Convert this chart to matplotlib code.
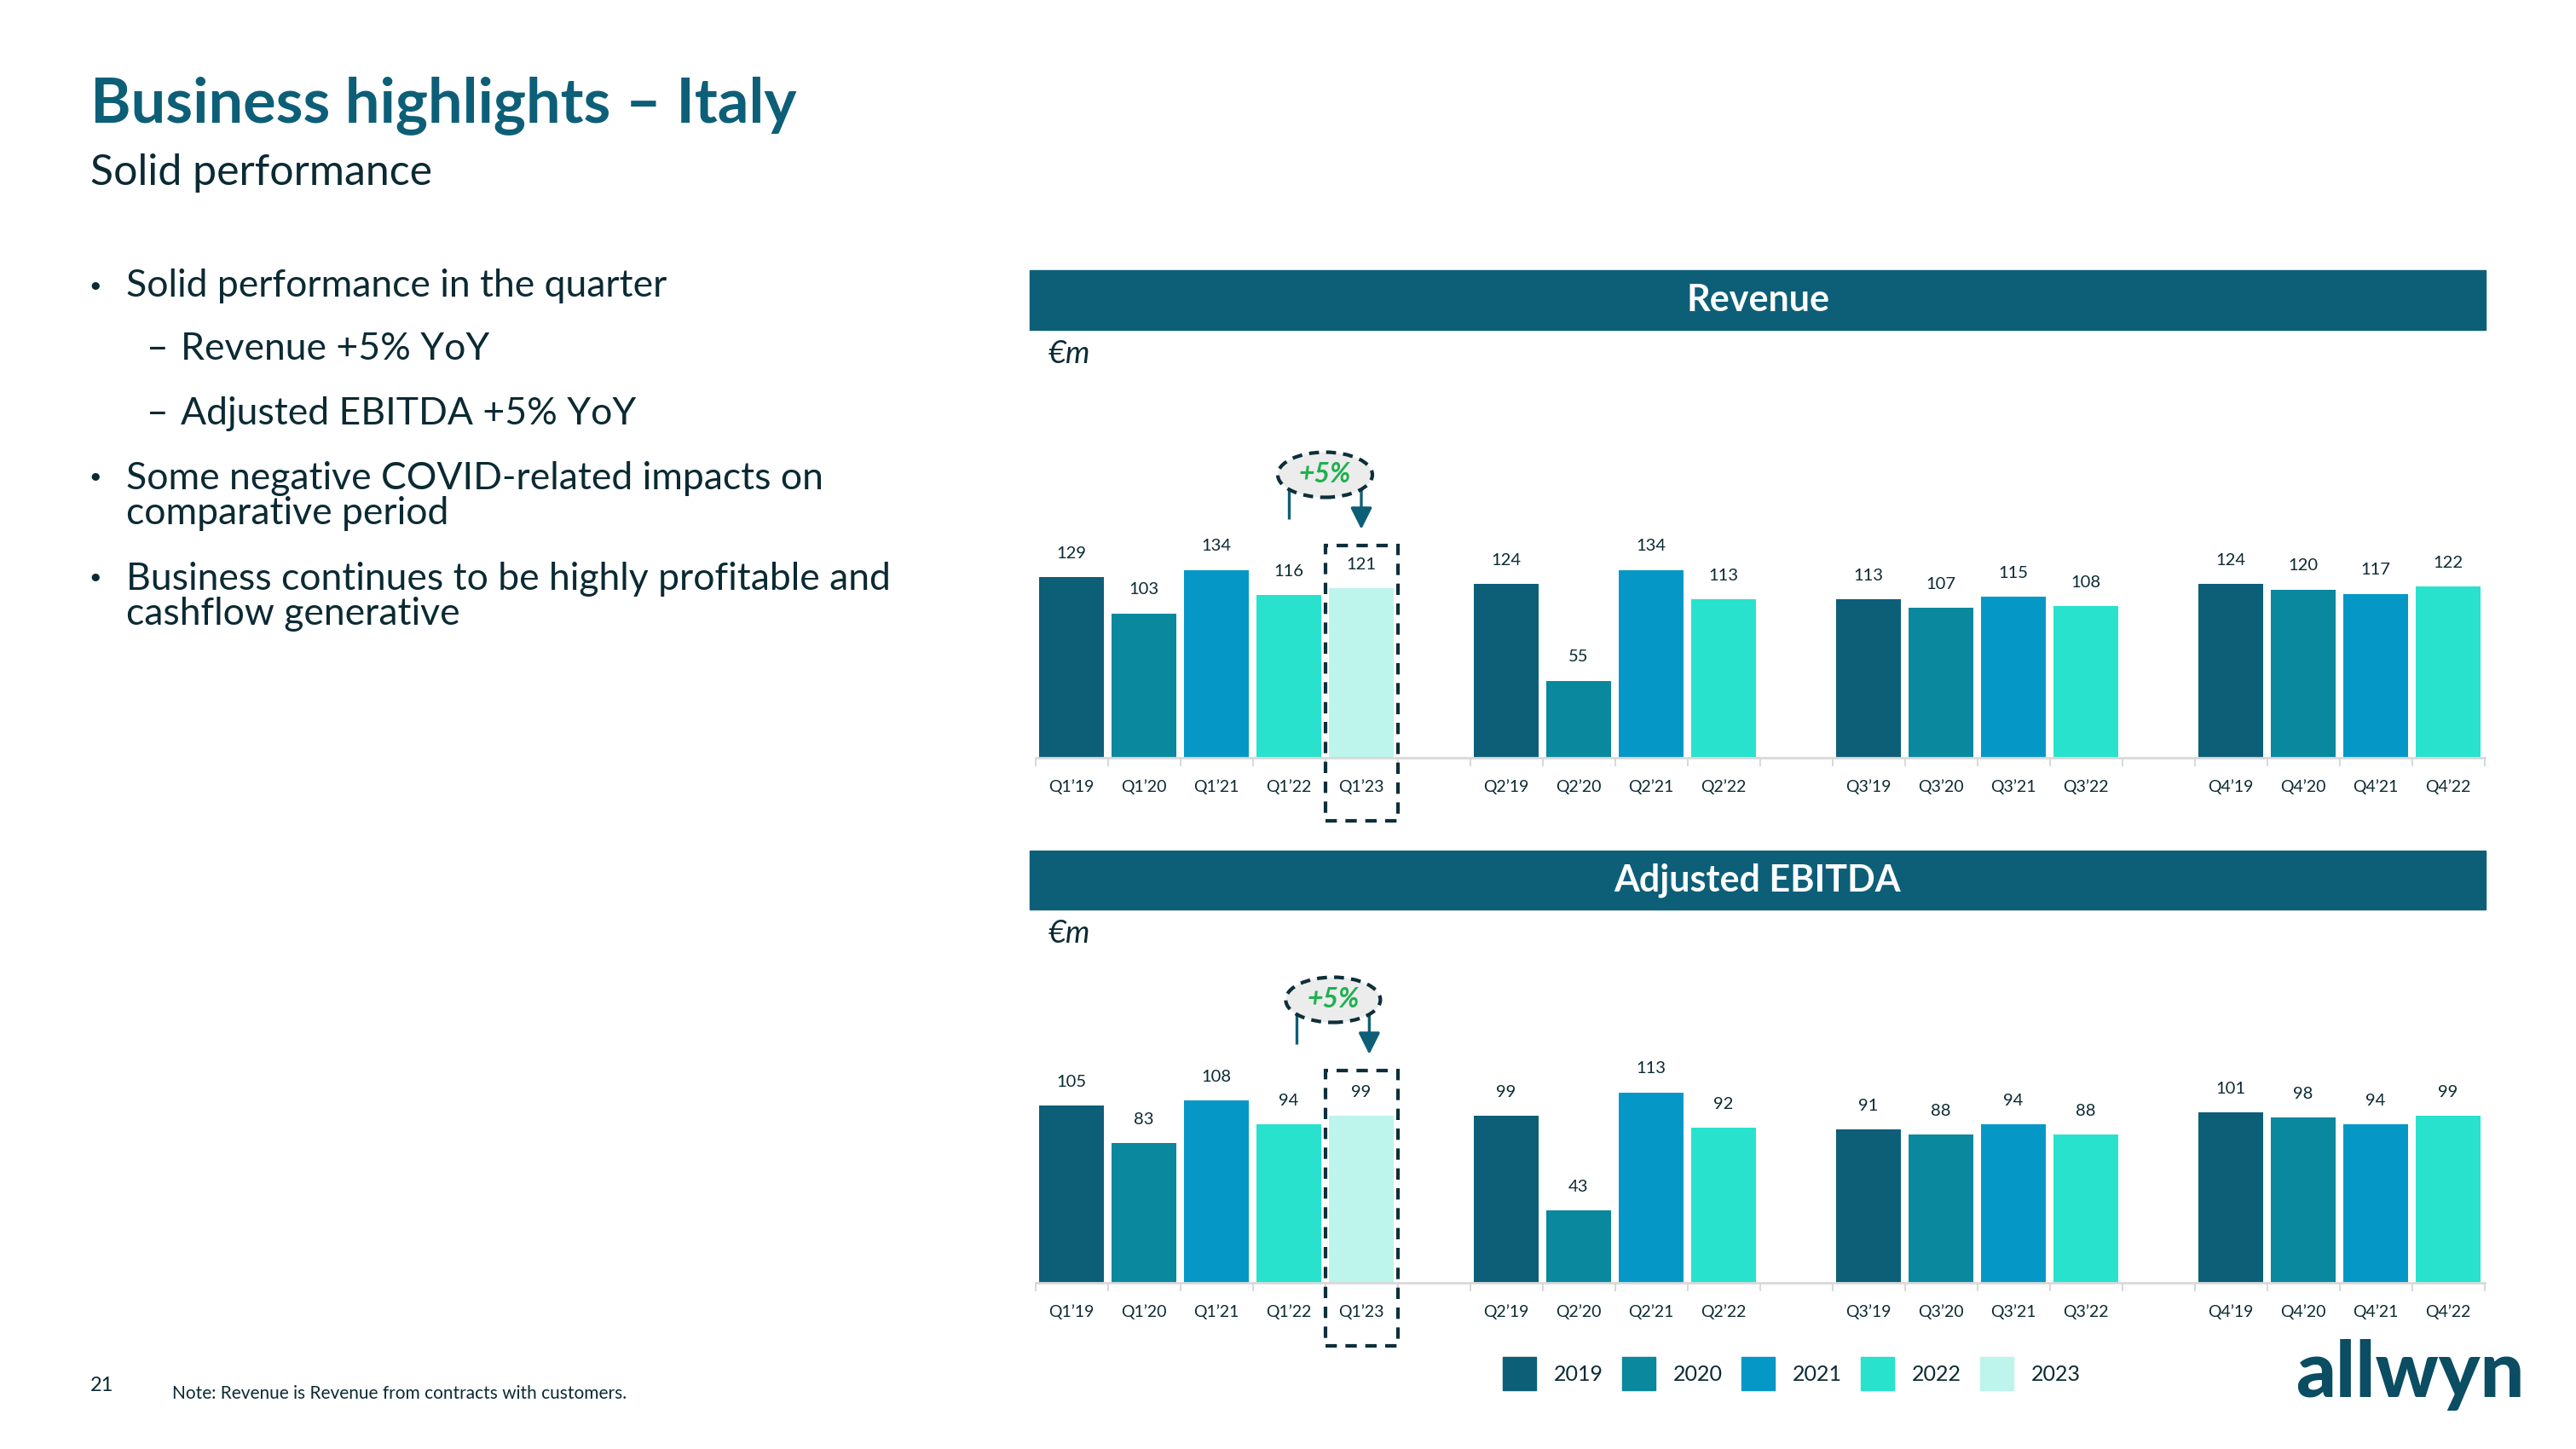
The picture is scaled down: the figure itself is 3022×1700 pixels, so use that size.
import numpy as np
import matplotlib
matplotlib.use('Agg')
import matplotlib.pyplot as plt
from matplotlib.patches import Rectangle, Ellipse

# data
years = ['2019', '2020', '2021', '2022', '2023']
year_colors = ['#0d5f78', '#0a889e', '#0598c6', '#29e2cd', '#bdf4ec']

revenue_q1 = [129, 103, 134, 116, 121]
revenue_q2 = [124, 55, 134, 113]
revenue_q3 = [113, 107, 115, 108]
revenue_q4 = [124, 120, 117, 122]

ebitda_q1 = [105, 83, 108, 94, 99]
ebitda_q2 = [99, 43, 113, 92]
ebitda_q3 = [91, 88, 94, 88]
ebitda_q4 = [101, 98, 94, 99]

revenue_growth = '+5%'
ebitda_growth = '+5%'

bullets = [
    ('•', 'Solid performance in the quarter', 0),
    ('–', 'Revenue +5% YoY', 1),
    ('–', 'Adjusted EBITDA +5% YoY', 1),
    ('•', 'Some negative COVID-related impacts on\ncomparative period', 0),
    ('•', 'Business continues to be highly profitable and\ncashflow generative', 0),
]

# style
TEAL = '#0d5f78'
DARK = '#0b2a33'
BOX = '#0d2f3a'
GRID = '#d9d9d9'
GREEN = '#1fb050'
plt.rcParams['font.family'] = ['Lato', 'DejaVu Sans']

W, H = 3022, 1700


def fx(x):
    return x / W


def fy(y):
    return 1 - y / H


fig = plt.figure(figsize=(W / 100, H / 100), dpi=100)


def add_axes_px(left, top, right, bottom):
    return fig.add_axes([fx(left), fy(bottom), (right - left) / W, (bottom - top) / H])


def draw_panel(ax, groups, ylim, axh, growth, shift):
    xs, vals, cols, labs = [], [], [], []
    pos = 0
    for q, values in enumerate(groups):
        for i, v in enumerate(values):
            xs.append(pos)
            vals.append(v)
            cols.append(year_colors[i])
            labs.append("Q%d’%s" % (q + 1, years[i][2:]))
            pos += 1
        pos += 1
    n_slots = pos - 1
    ax.bar(xs, vals, width=0.9, color=cols, zorder=2)
    ax.set_xlim(-0.5, n_slots - 0.5)
    ax.set_ylim(0, ylim)
    for x, v in zip(xs, vals):
        ax.annotate(str(v), (x, v), xytext=(0, 20), textcoords='offset points',
                    ha='center', va='center', fontsize=14.5, color=DARK)
    ax.set_xticks(xs)
    ax.set_xticklabels(labs)
    ax.set_xticks(np.arange(-0.5, n_slots), minor=True)
    ax.tick_params(axis='x', which='major', length=0, pad=18, labelsize=14, labelcolor=DARK)
    ax.tick_params(axis='x', which='minor', length=7, width=1.5, color=GRID)
    ax.tick_params(axis='y', left=False, labelleft=False)
    for s in ['top', 'right', 'left']:
        ax.spines[s].set_visible(False)
    ax.spines['bottom'].set_color(GRID)
    ax.spines['bottom'].set_linewidth(2)
    ax.patch.set_alpha(0)

    # yoy callout, pixel offsets above the baseline
    ppu = axh / ylim
    x_old, x_new = xs[3], xs[4]
    ax.add_patch(Rectangle((x_new - 0.5, -74 / ppu), 1.0, (249 + 74) / ppu, fill=False,
                           edgecolor=BOX, lw=3, ls=(0, (3.2, 2.4)), clip_on=False, zorder=6))
    cx = (x_old + x_new) / 2 + shift
    ax.add_patch(Ellipse((cx, 332 / ppu), 111 / 85, 53 / ppu, facecolor='#ececec',
                         edgecolor=BOX, lw=3, ls=(0, (2.8, 2.0)), clip_on=False, zorder=5))
    ax.text(cx, 332 / ppu, growth, ha='center', va='center', fontsize=23, fontweight='bold',
            fontstyle='italic', color=GREEN, zorder=7)
    ax.plot([x_old + shift, x_old + shift], [280 / ppu, 316 / ppu], color=TEAL, lw=2.4,
            solid_capstyle='butt', clip_on=False, zorder=4)
    ax.annotate('', xy=(x_new + shift, 268 / ppu), xytext=(x_new + shift, 316 / ppu),
                arrowprops=dict(arrowstyle='-|>,head_length=0.7,head_width=0.35', color=TEAL,
                                lw=2.4, mutation_scale=22, shrinkA=0, shrinkB=0),
                annotation_clip=False, zorder=4)


# header text
fig.text(fx(106), fy(124), 'Business highlights – Italy', fontsize=52, fontweight='bold',
         color=TEAL, va='center', ha='left')
fig.text(fx(106), fy(203), 'Solid performance', fontsize=36, color=DARK, va='center', ha='left')

ys = [335, 410, 486, 582, 700]
for (mark, txt, lvl), y in zip(bullets, ys):
    if lvl == 0:
        fig.text(fx(104), fy(y if '\n' not in txt else y - 22), mark, fontsize=18, color=DARK,
                 va='center', ha='left')
        fig.text(fx(148), fy(y), txt, fontsize=32, color=DARK, va='center', ha='left',
                 linespacing=0.98)
    else:
        fig.text(fx(172), fy(y), mark, fontsize=32, color=DARK, va='center', ha='left')
        fig.text(fx(212), fy(y), txt, fontsize=32, color=DARK, va='center', ha='left')

# panel bands
for top, bot, title in [(317, 387, 'Revenue'), (998, 1067, 'Adjusted EBITDA')]:
    fig.add_artist(Rectangle((fx(1208), fy(bot)), (2916 - 1208) / W, (bot - top) / H,
                             transform=fig.transFigure, color=TEAL, zorder=0))
    fig.text(fx(2062), fy((top + bot) / 2), title, fontsize=31, fontweight='bold',
             color='white', ha='center', va='center')
    fig.text(fx(1230), fy(bot + 28), '€m', fontsize=26, fontstyle='italic', color=DARK,
             ha='left', va='center')

# charts
ax_rev = add_axes_px(1214.5, 889 - 263, 2914.5, 889)
draw_panel(ax_rev, [revenue_q1, revenue_q2, revenue_q3, revenue_q4], 160, 263, revenue_growth, 0.0)

ax_eb = add_axes_px(1214.5, 1505 - 267, 2914.5, 1505)
draw_panel(ax_eb, [ebitda_q1, ebitda_q2, ebitda_q3, ebitda_q4], 135, 267, ebitda_growth, 0.11)

# legend
for i, (yr, c) in enumerate(zip(years, year_colors)):
    x0 = 1763 + i * 140
    fig.add_artist(Rectangle((fx(x0), fy(1631)), 39 / W, 39 / H, transform=fig.transFigure,
                             color=c))
    fig.text(fx(x0 + 60), fy(1612), yr, fontsize=18, color=DARK, ha='left', va='center')

# footer
fig.text(fx(106), fy(1625), '21', fontsize=17, color=DARK, ha='left', va='center')
fig.text(fx(202), fy(1635), 'Note: Revenue is Revenue from contracts with customers.',
         fontsize=15, color=DARK, ha='left', va='center')
fig.text(fx(2693), fy(1639), 'allwyn', fontsize=66, fontweight='black', color='#0b4d62',
         ha='left', va='baseline')

fig.savefig('out.png', dpi=100)
